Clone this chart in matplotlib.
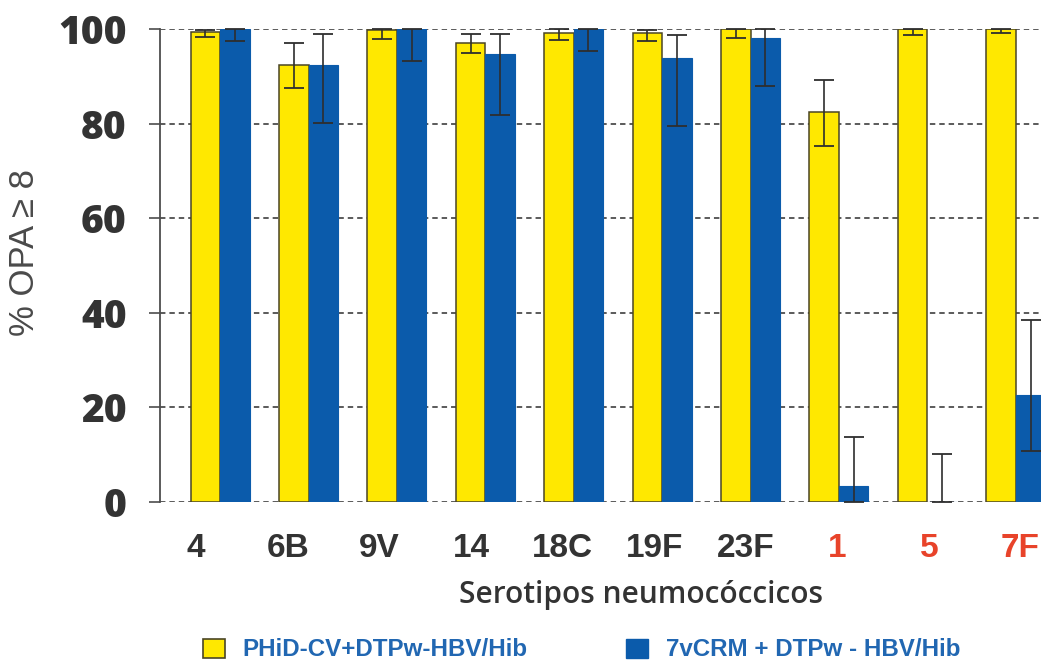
import numpy as np
import matplotlib
matplotlib.use("Agg")
import matplotlib.pyplot as plt
from matplotlib import font_manager
from matplotlib.patches import Patch

# Pneumococcal serotypes (last three are only in PHiD-CV)
serotypes = ["4", "6B", "9V", "14", "18C", "19F", "23F", "1", "5", "7F"]
extra_serotype = [False, False, False, False, False, False, False, True, True, True]

# % OPA >= 8 with 95% CI bounds
phid_pct = [99.3, 92.4, 99.8, 97.0, 99.2, 99.1, 100.0, 82.4, 100.0, 100.0]
phid_low = [98.3, 87.6, 97.8, 94.9, 97.6, 97.5, 98.2, 75.3, 98.8, 99.1]
phid_high = [99.8, 97.1, 100.0, 98.9, 99.9, 99.8, 100.0, 89.2, 100.0, 100.0]

crm_pct = [100.0, 92.4, 100.0, 94.7, 100.0, 93.8, 98.2, 3.4, 0.0, 22.7]
crm_low = [97.5, 80.2, 93.2, 81.9, 95.4, 79.4, 87.9, 0.0, 0.0, 10.8]
crm_high = [100.0, 98.9, 100.0, 98.9, 100.0, 98.7, 100.0, 13.8, 10.1, 38.4]

series_labels = ["PHiD-CV+DTPw-HBV/Hib", "7vCRM + DTPw - HBV/Hib"]
y_ticks = [0, 20, 40, 60, 80, 100]

YELLOW = "#FFE800"
YELLOW_EDGE = "#4a4526"
BLUE = "#0B5BAB"
TEXT = "#333333"
RED = "#E8432A"
LEGEND_TEXT = "#2167B2"
GRID = "#4d4d4d"

installed = {f.name for f in font_manager.fontManager.ttflist}
narrow = "Liberation Sans Narrow" if "Liberation Sans Narrow" in installed else "Liberation Sans"
narrow_scale = 1.0 if narrow == "Liberation Sans Narrow" else 0.89

fig = plt.figure(figsize=(10.41, 6.63), dpi=100)
W, H = 1041, 663
ax = fig.add_axes([160 / W, 161 / H, 908.8 / W, 473 / H])

x = np.arange(len(serotypes))
w = 0.334

ax.bar(x - w / 2, phid_pct, w, color=YELLOW, edgecolor=YELLOW_EDGE, linewidth=1.1, zorder=2)
ax.bar(x + w / 2, crm_pct, w, color=BLUE, edgecolor=BLUE, linewidth=0.8, zorder=2)

def draw_ci(xpos, vals, lo, hi):
    vals = np.asarray(vals)
    yerr = [vals - np.asarray(lo), np.asarray(hi) - vals]
    eb = ax.errorbar(xpos, vals, yerr=yerr, fmt="none", ecolor="#2e2e2e",
                     elinewidth=1.2, capsize=7, capthick=1.3, zorder=3)
    for art in eb.get_children():
        art.set_clip_on(False)

draw_ci(x - w / 2, phid_pct, phid_low, phid_high)
draw_ci(x + w / 2, crm_pct, crm_low, crm_high)

ax.set_xlim(-0.68, 9.6)
ax.set_ylim(0, 100)
ax.set_yticks(y_ticks)
ax.yaxis.grid(True, linestyle=(0, (3.0, 2.2)), color=GRID, linewidth=1.3)
ax.set_axisbelow(True)

for side in ["top", "right", "bottom"]:
    ax.spines[side].set_visible(False)
ax.spines["left"].set_color(GRID)
ax.spines["left"].set_linewidth(1.3)

ax.tick_params(axis="y", length=8, width=1.2, color=GRID, pad=16)
ax.tick_params(axis="x", length=0, pad=22)
for lab in ax.get_yticklabels():
    lab.set_fontfamily("Open Sans")
    lab.set_fontweight("heavy")
    lab.set_fontsize(28)
    lab.set_color(TEXT)

# category labels sit on a slightly wider pitch than the bar groups
tick_pos = x * 1.036 - 0.27
ax.set_xticks(tick_pos, serotypes)
for lab, is_extra in zip(ax.get_xticklabels(), extra_serotype):
    lab.set_fontfamily(narrow)
    lab.set_fontweight("bold")
    lab.set_fontsize(27 * narrow_scale)
    lab.set_color(RED if is_extra else TEXT)

fig.text(641 / W, 1 - 595 / H, "Serotipos neumocóccicos", ha="center", va="center",
         fontsize=21.5, fontweight="semibold", family="Open Sans", color=TEXT)
fig.text(25 / W, 1 - 253 / H, "% OPA ≥ 8", rotation=90, ha="center", va="center",
         fontsize=25, family=["Liberation Sans", "DejaVu Sans"], color="#4a4a4a")

handles = [Patch(facecolor=YELLOW, edgecolor=YELLOW_EDGE, linewidth=1.2),
           Patch(facecolor=BLUE, edgecolor=BLUE)]
leg = fig.legend(handles, series_labels, loc="center left", bbox_to_anchor=(203 / W, 13 / H),
                 ncol=2, frameon=False, borderpad=0, borderaxespad=0,
                 handlelength=0.9, handleheight=0.82, handletextpad=0.72, columnspacing=4.1,
                 prop=dict(family=narrow, weight="bold", size=20 * 0.87))
for t in leg.get_texts():
    t.set_color(LEGEND_TEXT)

fig.savefig("out.png", dpi=100)
